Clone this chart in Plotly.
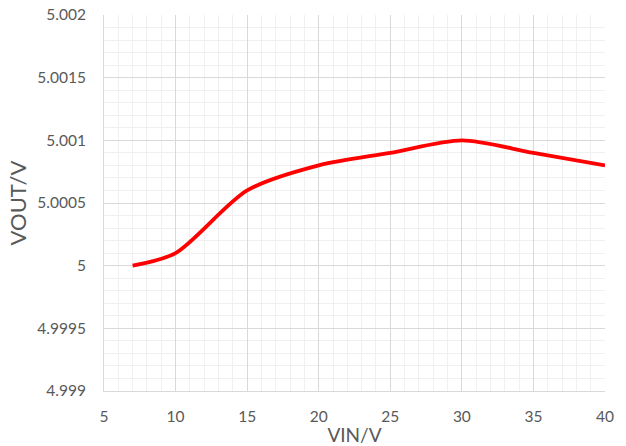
import plotly.graph_objects as go

vin = [7, 10, 15, 20, 25, 30, 35, 40]
vout = [5.0000, 5.0001, 5.0006, 5.0008, 5.0009, 5.0010, 5.0009, 5.0008]

y_ticks = [4.999, 4.9995, 5.0, 5.0005, 5.001, 5.0015, 5.002]
y_labels = ["4.999", "4.9995", "5", "5.0005", "5.001", "5.0015", "5.002"]
x_ticks = [5, 10, 15, 20, 25, 30, 35, 40]

font_fam = "Lato, 'Open Sans', sans-serif"
grey = "#595959"

fig = go.Figure()
fig.add_trace(go.Scatter(
    x=vin, y=vout, mode="lines",
    line=dict(color="#ff0000", width=3.8, shape="spline", smoothing=0.8),
    showlegend=False, hoverinfo="skip",
))

fig.update_layout(
    width=626, height=446,
    margin=dict(l=104, r=21, t=15, b=55, autoexpand=False),
    paper_bgcolor="white", plot_bgcolor="white",
    font=dict(family=font_fam, color=grey, size=15),
    xaxis=dict(
        range=[5, 40], tickvals=x_ticks, ticktext=[str(v) for v in x_ticks],
        showgrid=True, gridcolor="#d9d9d9", gridwidth=1,
        minor=dict(dtick=1, tick0=5, showgrid=True, gridcolor="#f0f0f0", gridwidth=1),
        showline=True, linecolor="#d9d9d9", linewidth=1,
        zeroline=False, ticks="", ticklen=0, automargin=False,
        ticklabelstandoff=11,
        tickfont=dict(size=15.5, color=grey),
        title=dict(text="VIN/V", font=dict(size=19, color=grey), standoff=4),
    ),
    yaxis=dict(
        range=[4.999, 5.002], tickvals=y_ticks, ticktext=y_labels,
        showgrid=True, gridcolor="#d9d9d9", gridwidth=1,
        minor=dict(dtick=0.0001, tick0=5.0, showgrid=True, gridcolor="#f0f0f0", gridwidth=1),
        showline=True, linecolor="#d9d9d9", linewidth=1,
        zeroline=False, ticks="", ticklen=0, automargin=False,
        ticklabelstandoff=14,
        tickfont=dict(size=15.5, color=grey),
        title=dict(text="VOUT/V", font=dict(size=22, color=grey), standoff=4),
    ),
)

fig.write_html("out.html", config={"displayModeBar": False})
with open("out.html", encoding="utf-8") as f:
    html = f.read()
html = html.replace("<body>", '<body style="margin:0;padding:0">', 1)
with open("out.html", "w", encoding="utf-8") as f:
    f.write(html)
